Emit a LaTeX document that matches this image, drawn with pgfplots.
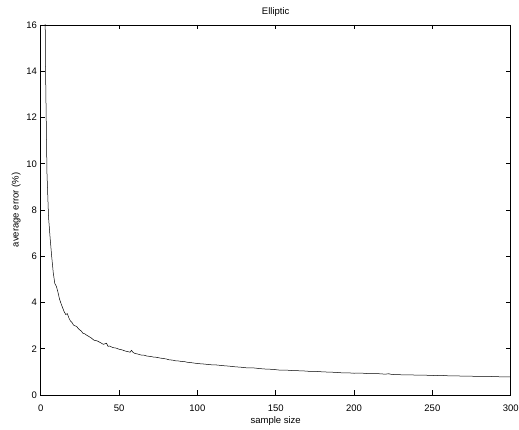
\documentclass[border=0pt]{standalone}
\usepackage{pgfplots}
\pgfplotsset{compat=1.18}
\usepackage{fontspec}
\setmainfont{Liberation Sans}
\begin{document}
\fontsize{9.5}{11}\selectfont
\begin{tikzpicture}
\begin{axis}[
  at={(0,0)}, anchor=south west,
  scale only axis, width=470pt, height=370pt,
  xmin=0, xmax=300, ymin=0, ymax=16,
  xtick={0,50,...,300}, ytick={0,2,...,16},
  tick align=inside, major tick length=4.5pt,
  xtick pos=both, ytick pos=both,
  axis line style={line width=0.6pt}, tick style={line width=0.5pt, black},
  /pgf/number format/assume math mode=true,
  ticklabel style={font=\fontsize{9.5}{11}\selectfont},
  xticklabel style={yshift=-6.5pt},
  yticklabel style={xshift=-0.5pt},
  title={Elliptic},
  title style={at={(axis description cs:0.5,1)}, anchor=center, yshift=7pt, font=\fontsize{9.5}{11}\selectfont},
  xlabel={sample size},
  xlabel style={at={([yshift=-26pt]axis description cs:0.5,0)}, anchor=center, font=\fontsize{9.5}{11}\selectfont},
  ylabel={average error (\%)},
  ylabel style={at={([xshift=-24.5pt]axis description cs:0,0.5)}, anchor=center, font=\fontsize{9.5}{11}\selectfont},
]
\addplot[black, line width=0.5pt] coordinates {
(1,40) (2,28) (3,14.5) (4,9.6) (5,7.7) (6,6.8) (7,6.0) (8,5.3) (9,4.82) (10,4.7)
(11,4.45) (12,4.15) (13,3.95) (14,3.77) (15,3.6) (16,3.48) (17,3.52) (18,3.33) (19,3.2) (20,3.13)
(21,3.02) (22,2.99) (23,2.96) (24,2.87) (25,2.81) (26,2.76) (27,2.67) (28,2.65) (29,2.6) (30,2.56)
(32,2.48) (34,2.37) (36,2.34) (38,2.27) (40,2.19) (42,2.24) (43,2.10) (44,2.12) (46,2.05) (48,2.03)
(50,1.98) (52,1.95) (54,1.90) (56,1.87) (57,1.85) (58,1.93) (59,1.84) (60,1.80) (62,1.77) (64,1.73)
(66,1.72) (68,1.68) (70,1.67) (72,1.64) (74,1.63) (76,1.60) (78,1.58) (80,1.56) (82,1.52) (84,1.51)
(86,1.48) (88,1.47) (90,1.45) (92,1.44) (94,1.41) (96,1.40) (98,1.38) (100,1.36)
(104,1.34) (108,1.31) (112,1.30) (116,1.27) (120,1.25) (124,1.22) (128,1.20) (132,1.17) (136,1.17) (140,1.14)
(144,1.12) (148,1.11) (152,1.08) (156,1.08) (160,1.06) (164,1.05) (168,1.04) (172,1.02) (176,1.02) (180,1.00)
(184,0.99) (188,0.98) (192,0.96) (196,0.96) (200,0.94) (204,0.95) (208,0.93) (212,0.92) (216,0.92) (220,0.90)
(222,0.92) (224,0.89) (228,0.88) (232,0.87) (236,0.87) (240,0.86) (244,0.86) (248,0.85) (252,0.84) (256,0.85)
(260,0.83) (264,0.83) (268,0.82) (272,0.82) (276,0.81) (280,0.81) (284,0.80) (288,0.80) (292,0.79) (296,0.78) (300,0.79)
};
\end{axis}
\pgfresetboundingbox
\useasboundingbox (-40.7pt,-35pt) rectangle (478.3pt,395pt);
\end{tikzpicture}
\end{document}
